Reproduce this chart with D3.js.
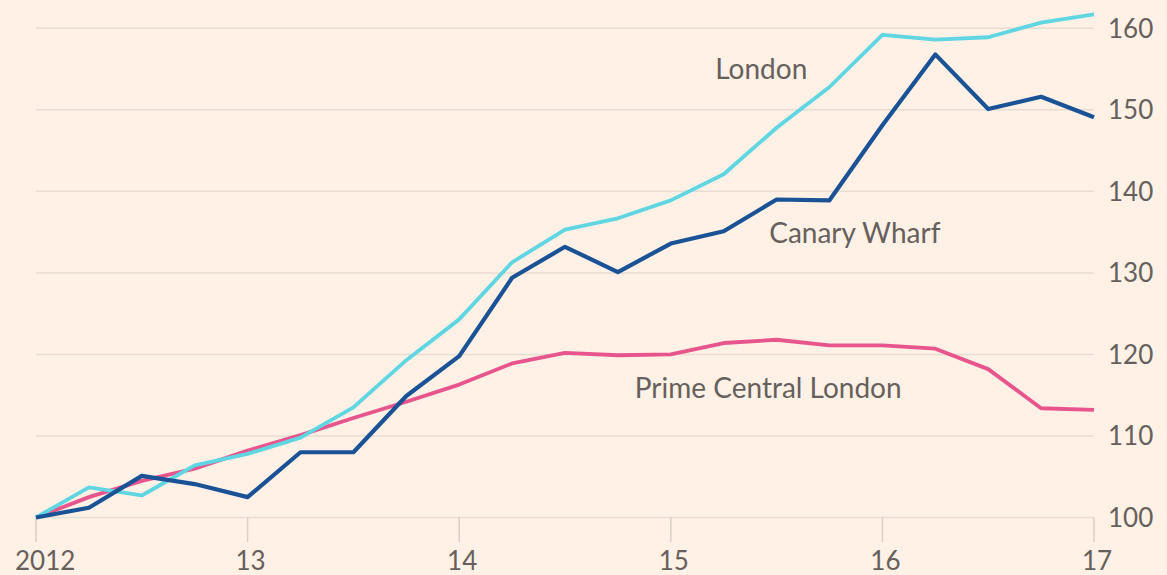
<!DOCTYPE html>
<html>
<head>
<meta charset="utf-8">
<script src="https://cdn.jsdelivr.net/npm/d3@7"></script>
<style>
  body { margin: 0; background: #fff1e5; }
  svg { display: block; }
  text { font-family: Lato, "Open Sans", sans-serif; fill: #66605c; }
</style>
</head>
<body>
<div id="chart"></div>
<script>
// quarterly index values, 2012 Q1 = 100
var quarters = d3.range(0, 21).map(function (i) { return 2012 + i / 4; });
var london = [100, 103.7, 102.7, 106.4, 107.8, 109.8, 113.5, 119.3, 124.3, 131.3, 135.3, 136.7, 138.9, 142.1, 147.8, 152.8, 159.2, 158.6, 158.9, 160.7, 161.7];
var canaryWharf = [100, 101.2, 105.1, 104.1, 102.5, 108.0, 108.0, 114.9, 119.8, 129.4, 133.2, 130.1, 133.6, 135.1, 139.0, 138.9, 148.1, 156.8, 150.1, 151.6, 149.1];
var primeCentral = [100, 102.5, 104.5, 106.0, 108.2, 110.1, 112.2, 114.2, 116.3, 118.9, 120.2, 119.9, 120.0, 121.4, 121.8, 121.1, 121.1, 120.7, 118.2, 113.4, 113.2];

var xTicks = [2012, 2013, 2014, 2015, 2016, 2017];
var xTickLabels = ["2012", "13", "14", "15", "16", "17"];
var yTicks = [100, 110, 120, 130, 140, 150, 160];

var seriesNames = ["London", "Canary Wharf", "Prime Central London"];
var seriesValues = [london, canaryWharf, primeCentral];
var seriesColors = ["#5fd6e2", "#1a5296", "#e8548c"];

var width = 1167, height = 575;

var x = d3.scaleLinear().domain([2012, 2017]).range([36, 1094]);
var y = d3.scaleLinear().domain([100, 160]).range([517.5, 28.3]);

var svg = d3.select("#chart")
    .append("svg")
    .attr("width", width)
    .attr("height", height);

// horizontal gridlines
svg.append("g")
    .selectAll("line")
    .data(yTicks)
    .enter()
    .append("line")
    .attr("x1", x(2012))
    .attr("x2", x(2017))
    .attr("y1", function (d) { return y(d); })
    .attr("y2", function (d) { return y(d); })
    .attr("stroke", "#e8ddd3")
    .attr("stroke-width", 1.5);

// y labels on the right
svg.append("g")
    .selectAll("text")
    .data(yTicks)
    .enter()
    .append("text")
    .attr("x", 1108)
    .attr("y", function (d) { return y(d); })
    .attr("dy", "0.36em")
    .style("font-size", "26px")
    .text(function (d) { return d; });

// x ticks
svg.append("g")
    .selectAll("line")
    .data(xTicks)
    .enter()
    .append("line")
    .attr("x1", function (d) { return x(d); })
    .attr("x2", function (d) { return x(d); })
    .attr("y1", y(100))
    .attr("y2", 542)
    .attr("stroke", "#d9cfc6")
    .attr("stroke-width", 1.5);

svg.append("g")
    .selectAll("text")
    .data(xTicks)
    .enter()
    .append("text")
    .attr("x", function (d, i) { return i === 0 ? 15 : x(d) + 3; })
    .attr("y", 570)
    .attr("text-anchor", function (d, i) { return i === 0 ? "start" : "middle"; })
    .style("font-size", "26px")
    .text(function (d, i) { return xTickLabels[i]; });

// lines
var line = d3.line()
    .x(function (d, i) { return x(quarters[i]); })
    .y(function (d) { return y(d); });

// draw order: pink, cyan, dark blue on top
[2, 0, 1].forEach(function (k) {
    svg.append("path")
        .datum(seriesValues[k])
        .attr("fill", "none")
        .attr("stroke", seriesColors[k])
        .attr("stroke-width", k === 1 ? 4.2 : 3.8)
        .attr("stroke-linejoin", "round")
        .attr("d", line);
});

// series labels
var labelPos = [
    { x: 2015.21, v: 153.8 },
    { x: 2015.465, v: 133.7 },
    { x: 2014.83, v: 114.65 }
];
svg.append("g")
    .selectAll("text")
    .data(seriesNames)
    .enter()
    .append("text")
    .attr("x", function (d, i) { return x(labelPos[i].x); })
    .attr("y", function (d, i) { return y(labelPos[i].v); })
    .style("font-size", "28px")
    .text(function (d) { return d; });
</script>
</body>
</html>
